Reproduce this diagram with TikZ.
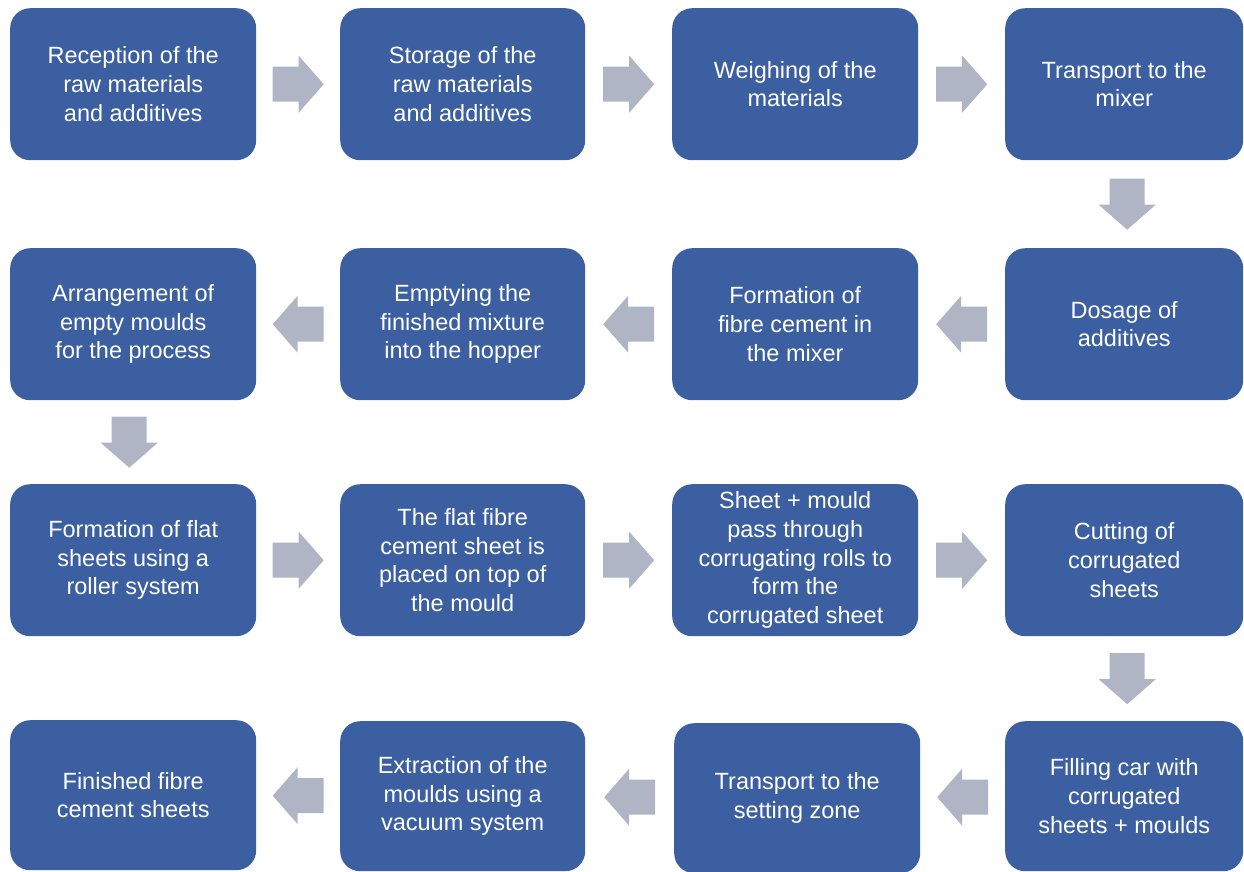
\documentclass[tikz,border=0pt]{standalone}
\usepackage{fontspec}
\setmainfont{Liberation Sans}
\usetikzlibrary{calc}
\definecolor{boxblue}{RGB}{59,95,160}
\definecolor{arrowgray}{RGB}{176,181,197}
\tikzset{
  stepbox/.style={fill=boxblue, draw=none, rounded corners=20pt, anchor=north west,
    text=white, align=center, inner sep=0pt,
    font=\fontsize{23.5}{28.7}\selectfont},
  w1/.style={minimum width=246pt}, w2/.style={minimum width=245pt},
  w3/.style={minimum width=246pt}, w4/.style={minimum width=238pt},
  hA/.style={minimum height=152pt}, hB/.style={minimum height=150pt},
  blockarrow/.pic={\fill[arrowgray] (-25.5,-17.5) -- (0.5,-17.5) -- (0.5,-28.5) -- (25.5,0) -- (0.5,28.5) -- (0.5,17.5) -- (-25.5,17.5) -- cycle;}
}
\begin{document}
\begin{tikzpicture}[x=1pt,y=-1pt]
\useasboundingbox (0,0) rectangle (1244,871);
% row 1
\node[stepbox,w1,hA] (b1) at (10,8) {Reception of the\\raw materials\\and additives};
\node[stepbox,w2,hA] (b2) at (340,8) {Storage of the\\raw materials\\and additives};
\node[stepbox,w3,hA] (b3) at (672,8) {Weighing of the\\materials};
\node[stepbox,w4,hA] (b4) at (1005,8) {Transport to the\\mixer};
% row 2
\node[stepbox,w4,hA] (b5) at (1005,248) {Dosage of\\additives};
\node[stepbox,w3,hA] (b6) at (672,248) {Formation of\\fibre cement in\\the mixer};
\node[stepbox,w2,hA] (b7) at (340,248) {Emptying the\\finished mixture\\into the hopper};
\node[stepbox,w1,hA] (b8) at (10,248) {Arrangement of\\empty moulds\\for the process};
% row 3
\node[stepbox,w1,hA] (b9) at (10,484) {Formation of flat\\sheets using a\\roller system};
\node[stepbox,w2,hA] (b10) at (340,484) {The flat fibre\\cement sheet is\\placed on top of\\the mould};
\node[stepbox,w3,hA] (b11) at (672,484) {Sheet + mould\\pass through\\corrugating rolls to\\form the\\corrugated sheet};
\node[stepbox,w4,hA] (b12) at (1005,484) {Cutting of\\corrugated\\sheets};
% row 4
\node[stepbox,w4,hB] (b13) at (1005,721) {Filling car with\\corrugated\\sheets + moulds};
\node[stepbox,w3,hB] (b14) at (674,723) {Transport to the\\setting zone};
\node[stepbox,w2,hB] (b15) at (340,721) {Extraction of the\\moulds using a\\vacuum system};
\node[stepbox,w1,hB] (b16) at (10,720) {Finished fibre\\cement sheets};
% arrows
\pic at ($(b1.east)!0.5!(b2.west)$) {blockarrow};
\pic at ($(b2.east)!0.5!(b3.west)$) {blockarrow};
\pic at ($(b3.east)!0.5!(b4.west)$) {blockarrow};
\pic[rotate=-90] at ($(b4.south)!0.5!(b5.north)+(3,0)$) {blockarrow};
\pic[rotate=180] at ($(b5.west)!0.5!(b6.east)$) {blockarrow};
\pic[rotate=180] at ($(b6.west)!0.5!(b7.east)$) {blockarrow};
\pic[rotate=180] at ($(b7.west)!0.5!(b8.east)$) {blockarrow};
\pic[rotate=-90] at ($(b8.south)!0.5!(b9.north)+(-4,0)$) {blockarrow};
\pic at ($(b9.east)!0.5!(b10.west)$) {blockarrow};
\pic at ($(b10.east)!0.5!(b11.west)$) {blockarrow};
\pic at ($(b11.east)!0.5!(b12.west)$) {blockarrow};
\pic[rotate=-90] at ($(b12.south)!0.5!(b13.north)+(3,0)$) {blockarrow};
\pic[rotate=180] at ($(b13.west)!0.5!(b14.east)$) {blockarrow};
\pic[rotate=180] at ($(b14.west)!0.5!(b15.east)$) {blockarrow};
\pic[rotate=180] at ($(b15.west)!0.5!(b16.east)$) {blockarrow};
\end{tikzpicture}
\end{document}
